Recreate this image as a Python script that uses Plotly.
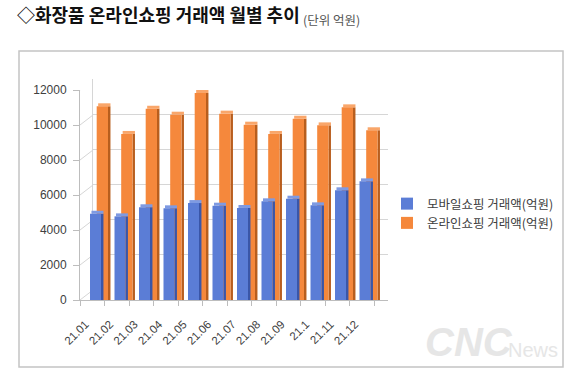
import plotly.graph_objects as go

months = ["21.01", "21.02", "21.03", "21.04", "21.05", "21.06",
          "21.07", "21.08", "21.09", "21.1", "21.11", "21.12"]
mobile = [4930, 4780, 5300, 5240, 5540, 5390, 5260, 5640, 5790, 5410, 6270, 6780]
online = [11070, 9490, 10930, 10590, 11830, 10650, 10020, 9490, 10360, 9980, 11010, 9700]
y_ticks = [0, 2000, 4000, 6000, 8000, 10000, 12000]

BLUE, BLUE_SIDE, BLUE_TOP = "#5B7DD6", "#3A56A8", "#7E9AE2"
ORANGE, ORANGE_SIDE, ORANGE_TOP = "#F5883C", "#B85E1E", "#F9A66A"
GRID = "#d6d6d6"
AXIS = "#bdbdbd"

W, H = 567, 377
PLOT_L, PLOT_R, PLOT_T, PLOT_B = 80, 388, 79, 300   # reference pixels
L, T = PLOT_L, PLOT_T
R = W - PLOT_R
B = H - PLOT_B
PW = PLOT_R - PLOT_L
PH = PLOT_B - PLOT_T


def px(x):
    return (x - PLOT_L) / PW


def py(y):
    return (PLOT_B - y) / PH


DEPTH = 170  # visual thickness of bar top faces, in value units

fig = go.Figure()

# back-wall grid subplot (x / y)
fig.add_trace(go.Scatter(x=[None], y=[None], xaxis="x", yaxis="y",
                         showlegend=False, hoverinfo="skip"))


def bar3d(values, name, front, side, top, off, width, rank):
    fig.add_trace(go.Bar(x=months, y=values, xaxis="x2", yaxis="y2",
                         offset=off + width, width=0.1,
                         marker=dict(color=side, line=dict(width=0)),
                         showlegend=False, hoverinfo="skip"))
    fig.add_trace(go.Bar(x=months, y=[DEPTH] * len(values), base=values,
                         xaxis="x2", yaxis="y2",
                         offset=off + 0.06, width=width + 0.04,
                         marker=dict(color=top, line=dict(width=0)),
                         showlegend=False, hoverinfo="skip"))
    fig.add_trace(go.Bar(x=months, y=values, xaxis="x2", yaxis="y2", name=name,
                         offset=off, width=width,
                         marker=dict(color=front, line=dict(width=0)),
                         legendrank=rank))


bar3d(online, "온라인쇼핑 거래액(억원)", ORANGE, ORANGE_SIDE, ORANGE_TOP, 0.171, 0.462, 2)
bar3d(mobile, "모바일쇼핑 거래액(억원)", BLUE, BLUE_SIDE, BLUE_TOP, -0.102, 0.449, 1)

back_x0 = 13 / PW
front_top = 210 / PH
back_bottom = 10 / PH

shapes = []
for v in y_ticks:
    shapes.append(dict(type="line", xref="paper", x0=0, x1=back_x0,
                       yref="y2", ysizemode="pixel", yanchor=v, y0=0, y1=10,
                       line=dict(color=GRID, width=1), layer="below"))
# outer frame
shapes.append(dict(type="rect", xref="paper", yref="paper",
                   x0=px(19), x1=px(563), y0=py(367), y1=py(51),
                   line=dict(color="#c4c4c4", width=1.5), layer="below"))

fig.update_layout(
    width=W, height=H,
    margin=dict(l=L, r=R, t=T, b=B, autoexpand=False),
    paper_bgcolor="white", plot_bgcolor="rgba(0,0,0,0)",
    barmode="overlay",
    font=dict(family="Liberation Sans, Arial, sans-serif", color="#404040"),
    title=dict(
        text="<b>◇화장품 온라인쇼핑 거래액 월별 추이</b>",
        font=dict(family="Noto Sans CJK KR", size=18, color="#111111"),
        xref="container", x=17 / W, xanchor="left",
        yref="container", y=1 - 16 / H, yanchor="middle"),
    xaxis=dict(domain=[back_x0, 1], range=[0, 1], visible=False, fixedrange=True),
    yaxis=dict(domain=[back_bottom, 1], range=[0, 12000], tickvals=y_ticks,
               showgrid=True, gridcolor=GRID, gridwidth=1, zeroline=False,
               showticklabels=False, ticks="", showline=True, linecolor=GRID,
               anchor="x"),
    xaxis2=dict(domain=[0, 1], anchor="y2", type="category",
                range=[-0.5102, 12.061], tickson="boundaries",
                ticks="outside", ticklen=5, tickcolor=AXIS,
                showline=True, linecolor=AXIS, showgrid=False,
                tickangle=-45, ticklabelshift=-7, ticklabelstandoff=12,
                tickfont=dict(size=11.5, color="#404040")),
    yaxis2=dict(domain=[0, front_top], anchor="x2", range=[0, 12000],
                tickvals=y_ticks, tickformat="d", showgrid=False, zeroline=False,
                ticks="outside", ticklen=6, tickcolor=AXIS,
                showline=True, linecolor=AXIS, ticklabelstandoff=4,
                tickfont=dict(size=12, color="#404040")),
    legend=dict(x=px(387), xanchor="left", y=py(189), yanchor="top",
                font=dict(family="Noto Sans CJK KR", size=12.5, color="#404040"),
                bgcolor="rgba(0,0,0,0)", itemwidth=30),
    shapes=shapes,
    annotations=[
        dict(text="(단위 억원)", xref="paper", yref="paper",
             x=px(301), y=py(19), xanchor="left", yanchor="middle", showarrow=False,
             font=dict(family="Noto Sans CJK KR", size=12.5, color="#555555")),
        dict(text="<i><b>CNC</b></i>", xref="paper", yref="paper",
             x=px(423), y=py(342), xanchor="left", yanchor="middle", showarrow=False,
             font=dict(family="Liberation Sans", size=40, color="#e6e6e6")),
        dict(text="News", xref="paper", yref="paper",
             x=px(506), y=py(350), xanchor="left", yanchor="middle", showarrow=False,
             font=dict(family="Liberation Sans", size=20, color="#e6e6e6")),
    ],
)

fig.write_html("out.html",
               config={"displayModeBar": False},
               post_script="document.body.style.margin='0';"
                           "document.body.style.overflow='hidden';")
